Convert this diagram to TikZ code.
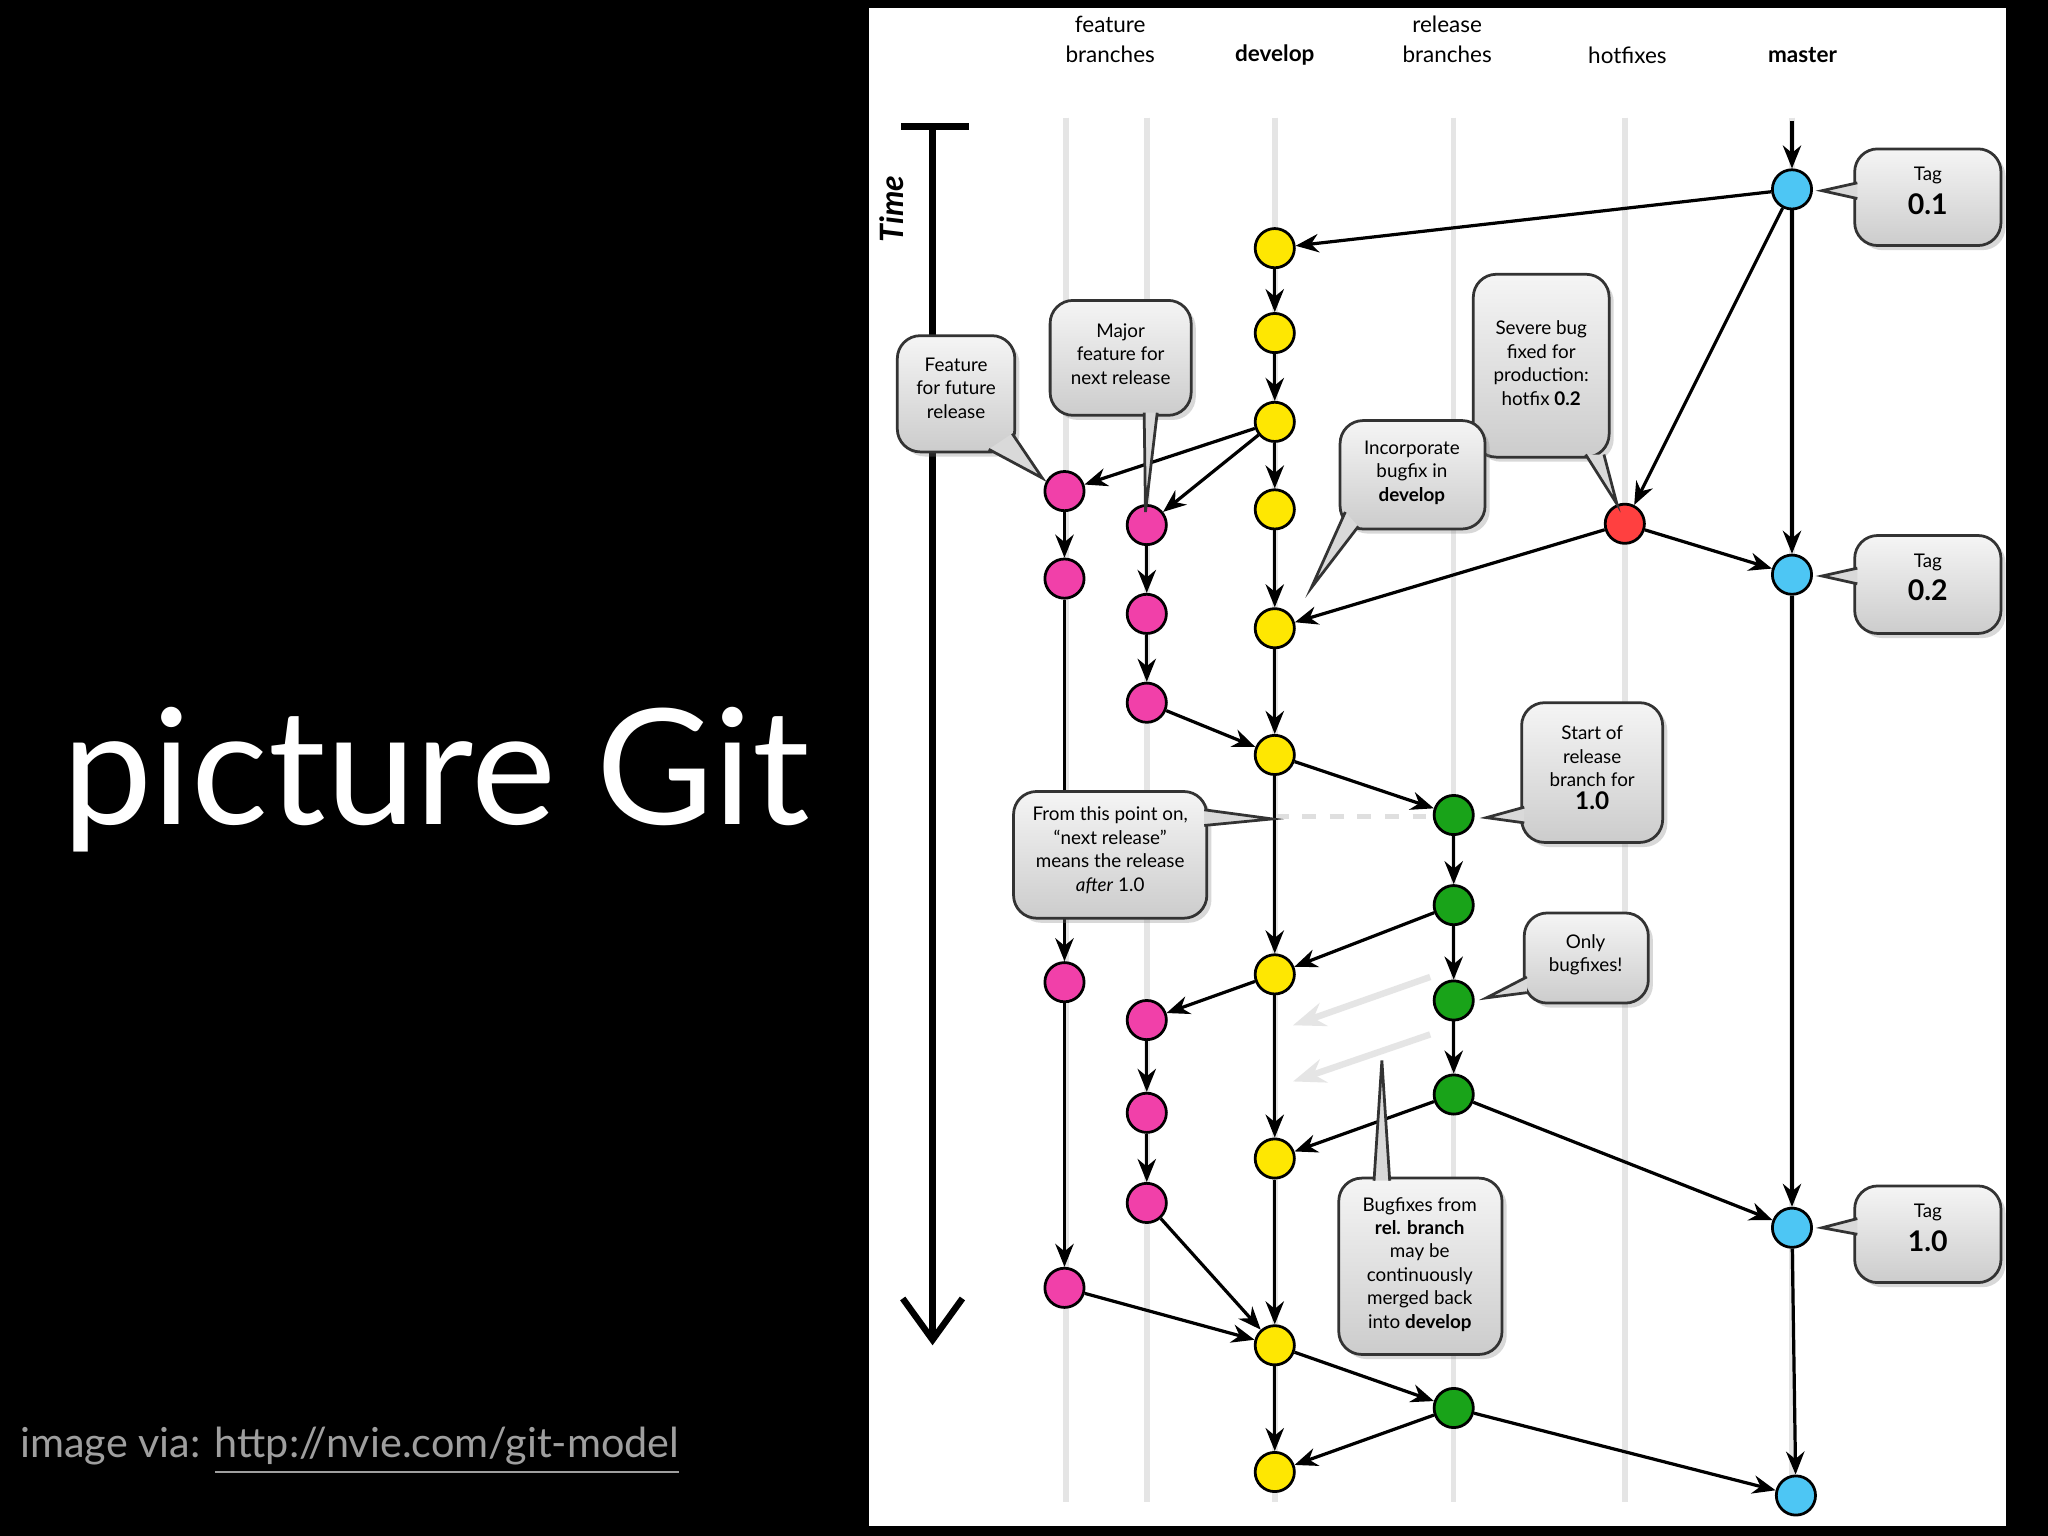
\documentclass[tikz,border=0pt]{standalone}
\usepackage{fontspec}
\setmainfont{Lato}
\usetikzlibrary{arrows.meta,shadows}
\begin{document}
\begin{tikzpicture}[x=0.01cm,y=-0.01cm,
  commit/.style={circle,draw=black,line width=0.6pt,minimum size=0.3cm,inner sep=0pt},
  mas/.style={commit,fill=cyan!70!white},
  dev/.style={commit,fill=yellow!90!orange},
  fea/.style={commit,fill=magenta!75!white},
  hot/.style={commit,fill=red!75!white},
  rel/.style={commit,fill=green!60!black!90!white},
  ar/.style={-{Stealth[length=5pt,width=4pt]},line width=0.7pt},
  lane/.style={gray!20,line width=1.2pt},
  box/.style={rounded corners=5pt,draw=black!80,line width=0.6pt,top color=gray!8,bottom color=gray!40,drop shadow={opacity=0.3,shadow xshift=1pt,shadow yshift=-1pt}},
  tx/.style={align=center,font=\fontsize{4.1pt}{5.1pt}\selectfont,inner sep=0pt},
  hd/.style={align=center,font=\fontsize{4.9pt}{6.6pt}\selectfont,inner sep=0pt}]
\fill[black] (0,0) rectangle (1568,1176);
\fill[white] (665,6) rectangle (1536,1168);
\useasboundingbox (0,0) rectangle (1568,1176);
\node[white,font=\fontsize{35pt}{40pt}\selectfont,inner sep=0pt] (title) at (334,597) {picture Git};
\node[gray!75,font=\fontsize{9pt}{10pt}\selectfont,anchor=west,inner sep=0pt] (via) at (15,1111) {image via: \underline{http://nvie.com/git-model}};
% headers
\node[hd] (h1) at (850,30) {feature\\branches};
\node[hd,font=\bfseries\fontsize{4.9pt}{6.6pt}\selectfont] (h2) at (976,42) {develop};
\node[hd] (h3) at (1108,30) {release\\branches};
\node[hd] (h4) at (1246,42) {hotfixes};
\node[hd,font=\bfseries\fontsize{4.9pt}{6.6pt}\selectfont] (h5) at (1380,42) {master};
% lanes
\foreach \x in {816,878,976,1113,1244,1372} \draw[lane] (\x,90) -- (\x,1150);
% time
\draw[line width=1.6pt] (690,97) -- (742,97);
\draw[line width=1.4pt,-{Straight Barb[length=9pt,width=13pt]}] (714,97) -- (714,1030);
\node[rotate=90,font=\bfseries\itshape\fontsize{7pt}{8pt}\selectfont] (time) at (683,160) {Time};
% faded
\draw[gray!25,line width=1.2pt,dashed] (976,625) -- (1098,625);
\draw[gray!20,line width=1.4pt,-{Stealth[length=7pt]}] (1095,748) -- (990,785);
\draw[gray!20,line width=1.4pt,-{Stealth[length=7pt]}] (1095,792) -- (990,828);
% nodes
\node[mas] (m1) at (1372,145) {}; \node[mas] (m2) at (1372,440) {};
\node[mas] (m3) at (1372,940) {}; \node[mas] (m4) at (1375,1145) {};
\coordinate (m0) at (1372,93);
\foreach \n/\y in {1/190,2/255,3/323,4/390,5/481,6/578,7/746,8/887,9/1030,10/1127} \node[dev] (d\n) at (976,\y) {};
\node[fea] (fa) at (815,376) {}; \node[fea] (fb) at (815,443) {};
\node[fea] (fc) at (815,752) {}; \node[fea] (fd) at (815,986) {};
\node[fea] (ga) at (878,402) {}; \node[fea] (gb) at (878,470) {};
\node[fea] (gc) at (878,538) {}; \node[fea] (gd) at (878,781) {};
\node[fea] (ge) at (878,852) {}; \node[fea] (gf) at (878,921) {};
\node[hot] (hx) at (1244,401) {};
\foreach \n/\y in {1/624,2/693,3/766,4/838,5/1078} \node[rel] (r\n) at (1113,\y) {};
% edges
\draw[ar] (m0) -- (m1);
\draw[ar] (m1) -- (d1); \draw[ar] (m1) -- (hx); \draw[ar] (m1) -- (m2);
\foreach \a/\b in {1/2,2/3,3/4,4/5,5/6,6/7,7/8,8/9,9/10} \draw[ar] (d\a) -- (d\b);
\draw[ar] (d3) -- (fa); \draw[ar] (d3) -- (ga);
\draw[ar] (fa) -- (fb); \draw[ar] (fb) -- (fc); \draw[ar] (fc) -- (fd);
\draw[ar] (ga) -- (gb); \draw[ar] (gb) -- (gc); \draw[ar] (gc) -- (d6);
\draw[ar] (hx) -- (m2); \draw[ar] (hx) -- (d5);
\draw[ar] (d6) -- (r1);
\draw[ar] (r1) -- (r2); \draw[ar] (r2) -- (r3); \draw[ar] (r3) -- (r4);
\draw[ar] (r2) -- (d7); \draw[ar] (r4) -- (d8); \draw[ar] (r4) -- (m3);
\draw[ar] (m2) -- (m3); \draw[ar] (m3) -- (m4);
\draw[ar] (d7) -- (gd); \draw[ar] (gd) -- (ge); \draw[ar] (ge) -- (gf);
\draw[ar] (gf) -- (d9); \draw[ar] (fd) -- (d9);
\draw[ar] (d9) -- (r5); \draw[ar] (r5) -- (d10); \draw[ar] (r5) -- (m4);
% callouts
\newcommand\callout[7]{%
  \draw[box] (#1) rectangle (#2);
  \fill[gray!30] (#3) -- (#5) -- (#4) -- cycle;
  \draw[black!80,line width=0.6pt] (#3) -- (#5) -- (#4);
  \node[tx] at (#6) {#7};}
\callout{1420,114}{1532,188}{1422,140}{1422,152}{1395,146}{1476,146}{Tag\\[1pt]{\bfseries\fontsize{6.2pt}{7pt}\selectfont 0.1}}
\callout{1420,410}{1532,485}{1422,435}{1422,447}{1395,441}{1476,442}{Tag\\[1pt]{\bfseries\fontsize{6.2pt}{7pt}\selectfont 0.2}}
\callout{1420,908}{1532,982}{1422,933}{1422,945}{1395,940}{1476,940}{Tag\\[1pt]{\bfseries\fontsize{6.2pt}{7pt}\selectfont 1.0}}
\callout{687,257}{777,346}{757,344}{775,332}{798,366}{732,297}{Feature\\for future\\release}
\callout{804,230}{912,318}{876,316}{886,316}{877,392}{858,271}{Major\\feature for\\next release}
\callout{1128,210}{1232,350}{1214,348}{1228,348}{1238,386}{1180,278}{Severe bug\\fixed for\\production:\\hotfix \textbf{0.2}}
\callout{1026,322}{1137,405}{1030,392}{1040,403}{1004,450}{1081,362}{Incorporate\\bugfix in\\\textbf{develop}}
\callout{1165,538}{1273,645}{1167,618}{1167,630}{1138,626}{1219,588}{Start of\\release\\branch for\\{\bfseries\fontsize{5.3pt}{6pt}\selectfont 1.0}}
\callout{776,606}{924,703}{922,620}{922,632}{974,627}{850,651}{From this point on,\\``next release''\\means the release\\\textit{after} 1.0}
\callout{1167,699}{1262,768}{1169,748}{1169,760}{1138,764}{1214,731}{Only\\bugfixes!}
\callout{1025,902}{1150,1037}{1052,904}{1064,904}{1058,812}{1087,968}{Bugfixes from\\\textbf{rel. branch}\\may be\\continuously\\merged back\\into \textbf{develop}}
\end{tikzpicture}
\end{document}
